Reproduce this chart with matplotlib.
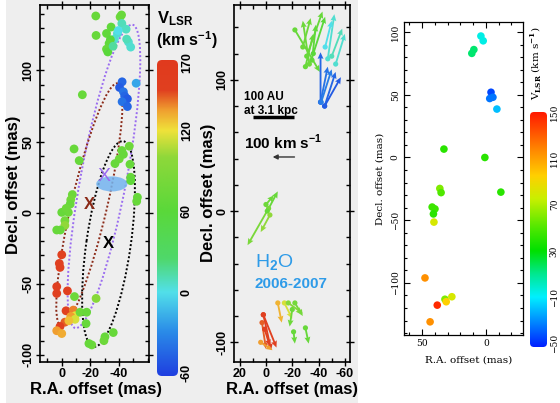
import numpy as np
import matplotlib
matplotlib.use('Agg')
import matplotlib.pyplot as plt
from matplotlib.colors import LinearSegmentedColormap, Normalize
from matplotlib.patches import Ellipse, Rectangle, FancyBboxPatch
from matplotlib.ticker import MultipleLocator

plt.rcParams['font.family'] = ['Liberation Sans', 'DejaVu Sans']
plt.rcParams['font.weight'] = 'bold'
plt.rcParams['mathtext.fontset'] = 'custom'
plt.rcParams['mathtext.rm'] = 'DejaVu Serif'
plt.rcParams['mathtext.bf'] = 'Liberation Sans:bold'
plt.rcParams['mathtext.sf'] = 'Liberation Sans'

# ---- left panel: maser spots (R.A. / Decl. offsets in mas, V_LSR in km/s)
spot_ra = [-23.8, -40.8, -41.8, -42.0, -34.5, -24.0, -31.3, -38.9, -36.8, -34.0,
           -33.1, -31.3, -32.2, -46.6, -48.2, -45.4, -45.0, -39.5, -35.9,
           -42.2, -40.4, -43.1, -44.0, -45.9, -42.2, -45.9, -52.0,
           -14.4,
           -8.6, -12.2, -47.2, -42.0, -40.2, -43.1, -47.7, -48.2, -48.2, -52.9,
           -52.4, -7.4, -6.3, -5.9, -4.6, 0.0, -2.2, -2.2, 3.5, 1.0, -3.1, -37.2,
           0.0, 1.7, 1.2, 3.5, 3.5, -4.0, -3.0, -8.1, -2.2, 1.2, 3.5, 0.0,
           -9.3, -6.3, -9.3, -5.0,
           -8.9, -24.0, -12.8, -17.4, -17.0, -21.0, -19.0, -30.2, -29.5, -36.0]
spot_dec = [138.3, 137.6, 139.0, 133.0, 130.5, 124.6, 126.0, 126.0, 122.0, 121.6,
            119.0, 115.0, 113.0, 120.0, 116.4, 122.0, 129.0, 128.0, 117.0,
            92.0, 88.0, 85.0, 82.0, 80.0, 78.0, 74.6, 91.0,
            82.9,
            44.8, 36.6, 46.7, 43.7, 37.8, 41.0, 34.0, 24.9, 22.5, 10.8,
            8.0, 12.7, 9.0, 6.0, 0.2, 0.2, -5.6, -9.0, -12.2, -12.2, 3.0, 34.5,
            -29.6, -35.7, -38.5, -52.0, -56.8, -55.0, -69.0, -68.5, -77.0, -80.0, -83.0, -85.0,
            -72.5, -73.0, -75.0, -76.0,
            -59.0, -60.3, -70.0, -70.0, -78.0, -93.0, -92.0, -87.3, -90.0, -84.3]
spot_v = [70, 75, 70, 10, 65, 70, 65, 5, 5, 60,
          65, 70, 60, 5, 5, 10, 8, 0, 15,
          -45, -50, -40, -45, -50, -40, -45, -20,
          70,
          70, 70, 75, 70, 75, 70, 70, 70, 65, 70,
          70, 75, 80, 70, 75, 70, 80, 100, 70, 70, 75, 70,
          150, 150, 150, 155, 150, 155, 150, 140, 145, 150, 135, 132,
          118, 135, 115, 128,
          75, 95, 75, 70, 70, 75, 70, 70, 75, 70]

# fitted rings: centre, full axes (mas), position angle (deg from +x)
ell_ra = [-29.5, -19.3, -32.7]
ell_dec = [25.5, 5.6, -22.0]
ell_major = [217, 175, 146]
ell_minor = [32, 25, 31]
ell_pa = [100.6, 103.0, 98.1]

# ---- middle panel: proper motions (start, displacement in mas, V_LSR)
pm_ra = [-22, -31, -33, -35, -30, -36, -28, -47, -50, -45, -53,
         -41.5, -41.5, -44.6, -44.6, -42,
         -2, -1, -3, 0,
         2, 2, 3, 4, 1, -9, -14, -17, -22, -20, -21, -30]
pm_dec = [138, 118, 112, 115, 110, 120, 125, 116, 118, 125, 112,
          83, 83, 80, 80, 83,
          2, 0, -3, 5,
          -79, -79, -85, -100, -90, -70, -70, -70, -70, -75, -92, -89]
pm_dra = [-19, -12, 5, -3, -6, -9, -6, -5, -8, -5, -7,
          0, -5.5, -8.4, -12.4, -8,
          16, -8, 7, -6,
          -6, -10, -3, -9, -4, -3, -6, -11, -6, 2, -1, -2.5]
pm_ddec = [-32, 34, 33, 27, 25, 28, 22, 34, 21, 20, 23,
           38, 27, 26, 22, 25,
           -28, 15, -13, 7,
           -27, -25, -20, -6, -13, -15, -12, -8, -10, -13, -9, -12]
pm_v = [70, 70, 75, 65, 70, 60, 75, 5, 10, 0, 5,
        -45, -40, -45, -50, -35,
        85, 70, 100, 75,
        155, 150, 145, 135, 150, 130, 115, 95, 80, 75, 70, 70]

# ---- right panel: spots
r_ra = [3.9, 2.1, 9.4, 11.0, -4.0, -3.0, -5.5, -8.6, 32.8, 0.8, -11.7, 36.0, 35.0,
        42.0, 39.8, 41.0, 40.6, 47.6, 32.0, 26.6, 31.0, 38.0, 43.6]
r_dec = [96.8, 93.0, 86.0, 83.0, 52.0, 47.0, 48.0, 38.6, 6.7, 0.0, -27.6, -24.7, -28.0,
         -39.5, -41.0, -45.0, -51.5, -96.0, -113.0, -111.0, -115.0, -117.7, -131.0]
r_v = [-5, -5, 15, 15, -45, -35, -35, -20, 40, 40, 40, 60, 50,
       45, 45, 40, 80, 115, 60, 80, 95, 145, 115]

W, H = 560, 403


def frac(x0, y0, x1, y1):
    return [x0 / W, 1 - y1 / H, (x1 - x0) / W, (y1 - y0) / H]


def grad_bar(rect, cmap, vmin, vmax, rad):
    cax = fig.add_axes(rect)
    g = np.linspace(vmin, vmax, 256).reshape(-1, 1)
    im = cax.imshow(g, aspect='auto', cmap=cmap, origin='lower',
                    extent=[0, 1, vmin, vmax], vmin=vmin, vmax=vmax)
    wpx, hpx = rect[2] * W, rect[3] * H
    box = FancyBboxPatch((0, 0), 1, 1, boxstyle=f'round,pad=0,rounding_size={rad / wpx}',
                         mutation_aspect=wpx / hpx, transform=cax.transAxes)
    im.set_clip_path(box)
    for s in cax.spines.values():
        s.set_visible(False)
    cax.set_xticks([])
    cax.yaxis.tick_right()
    cax.tick_params(axis='y', length=0, pad=2)
    cax.set_facecolor('none')
    return cax


def style_box(ax):
    for s in ax.spines.values():
        s.set_linewidth(1.2)
    ax.tick_params(which='major', direction='inout', length=6, width=1,
                   top=True, right=True, labelsize=9, pad=1)
    ax.tick_params(which='minor', direction='in', length=3, width=1, top=True, right=True)
    ax.set_facecolor('none')


lstops = [(-62, '#1f3fe0'), (-30, '#2a8ae8'), (0, '#52e0ea'), (25, '#4fd86a'),
          (60, '#5ad83a'), (100, '#8ed83a'), (120, '#efe23a'), (135, '#f0a030'),
          (150, '#e04020'), (172, '#e03a1e')]
cmap_l = LinearSegmentedColormap.from_list(
    'vl', [((v + 62) / 234, c) for v, c in lstops])
norm_l = Normalize(-62, 172)

rstops = [(-53, '#0020ff'), (-30, '#0090ff'), (-10, '#00f0ff'), (10, '#00e890'),
          (30, '#00e000'), (50, '#50e800'), (75, '#c8f000'), (95, '#ffd000'),
          (115, '#ff9000'), (150, '#ff1a00')]
cmap_r = LinearSegmentedColormap.from_list(
    'vr', [((v + 53) / 203, c) for v, c in rstops])
norm_r = Normalize(-53, 150)

fig = plt.figure(figsize=(5.6, 4.03), dpi=100)
fig.add_artist(Rectangle((6 / W, 0), 352 / W, 1, transform=fig.transFigure,
                         facecolor='#eeeeee', edgecolor='none', zorder=-5))

# ---------------- left panel
ax1 = fig.add_axes(frac(40, 5, 149, 362))
style_box(ax1)
ax1.set_xlim(15.2, -61)
ax1.set_ylim(-105, 146)
for cx, cy, a, b, pa, col in zip(ell_ra, ell_dec, ell_major, ell_minor, ell_pa,
                                 ['#9a6cf0', '#8b2a18', 'black']):
    ax1.add_patch(Ellipse((cx, cy), a, b, angle=pa, fill=False, edgecolor=col,
                          lw=1.4, linestyle=(0, (1, 1.1)), zorder=2))
ax1.add_patch(Ellipse((-35, 20.2), 21.8, 10.6, facecolor='#74b4f0',
                      edgecolor='none', alpha=0.85, zorder=2.5))
ax1.scatter(spot_ra, spot_dec, c=spot_v, cmap=cmap_l, norm=norm_l, s=40,
            edgecolors='none', zorder=3)
for cx, cy, col, w, fs in zip(ell_ra, ell_dec, ['#9a6cf0', '#8b2a18', 'black'],
                              ['normal', 'bold', 'bold'], [14, 12, 12]):
    ax1.text(cx, cy, 'X', color=col, fontsize=fs, fontweight=w,
             ha='center', va='center', zorder=4)
ax1.set_xticks([0, -20, -40])
ax1.set_xticklabels(['0', '-20', '-40'])
ax1.set_yticks([100, 50, 0, -50, -100])
ax1.set_yticklabels(['100', '50', '0', '-50', '-100'], rotation=90, va='center')
ax1.xaxis.set_minor_locator(MultipleLocator(10))
ax1.yaxis.set_minor_locator(MultipleLocator(10))
ax1.set_xlabel('R.A. offset (mas)', fontsize=12, fontweight='bold', va='center')
ax1.set_ylabel('Decl. offset (mas)', fontsize=12, fontweight='bold', va='center')
ax1.xaxis.set_label_coords(0.51, -0.078)
ax1.yaxis.set_label_coords(-0.24, 0.496)

cax1 = grad_bar(frac(157, 60, 178, 376), cmap_l, -62, 172, 5)
cax1.set_yticks([170, 120, 60, 0, -60])
cax1.set_yticklabels(['170', '120', '60', '0', '-60'], rotation=90, va='center',
                     fontsize=9, fontweight='bold')
fig.text(157 / W, 1 - 19 / H, r'$\mathbf{V_{LSR}}$', fontsize=12, va='center')
fig.text(156 / W, 1 - 40 / H, r'(km s$^{\mathbf{-1}}$)', fontsize=11.5,
         fontweight='bold', va='center')

# ---------------- middle panel
ax2 = fig.add_axes(frac(234, 5, 350, 362))
style_box(ax2)
ax2.set_xlim(24.3, -63.9)
ax2.set_ylim(-115, 157)
ax2.quiver(pm_ra, pm_dec, pm_dra, pm_ddec, pm_v, cmap=cmap_l, norm=norm_l,
           angles='xy', scale_units='xy', scale=1, width=0.016,
           headwidth=3.2, headlength=3.6, headaxislength=3.2, zorder=3)
ax2.scatter(pm_ra, pm_dec, c=pm_v, cmap=cmap_l, norm=norm_l, s=14,
            edgecolors='none', zorder=3)
ax2.text(16.5, 87, '100 AU', fontsize=8.5, fontweight='bold', va='center')
ax2.text(16.5, 76, 'at 3.1 kpc', fontsize=8.5, fontweight='bold', va='center')
ax2.plot([10, -21.5], [71.5, 71.5], color='black', lw=2.5, solid_capstyle='butt')
ax2.text(17, 52, r'100 km s$^{\mathbf{-1}}$', fontsize=11, fontweight='bold', va='center')
ax2.annotate('', xy=(-3, 41.2), xytext=(-23.8, 41.2),
             arrowprops=dict(arrowstyle='-|>', color='#333333', lw=1,
                             mutation_scale=7))
ax2.text(8.5, -39.7, r'H$_\mathsf{2}$O', fontsize=14, fontweight='normal',
         color='#2e9be8', va='center')
ax2.text(8.5, -55.7, '2006-2007', fontsize=11, fontweight='bold',
         color='#2e9be8', va='center')
ax2.set_xticks([20, 0, -20, -40, -60])
ax2.set_xticklabels(['20', '0', '-20', '-40', '-60'])
ax2.set_yticks([100, 0, -100])
ax2.set_yticklabels(['100', '0', '-100'], rotation=90, va='center')
ax2.xaxis.set_minor_locator(MultipleLocator(10))
ax2.yaxis.set_minor_locator(MultipleLocator(20))
ax2.set_xlabel('R.A. offset (mas)', fontsize=12, fontweight='bold', va='center')
ax2.set_ylabel('Decl. offset (mas)', fontsize=12, fontweight='bold', va='center')
ax2.xaxis.set_label_coords(0.5, -0.078)
ax2.yaxis.set_label_coords(-0.224, 0.475)

# ---------------- right panel
serif = 'DejaVu Serif'
ax3 = fig.add_axes(frac(404, 22, 523, 335))
ax3.scatter(r_ra, r_dec, c=r_v, cmap=cmap_r, norm=norm_r, s=30,
            edgecolors='none', zorder=3)
ax3.set_xlim(64, -29)
ax3.set_ylim(-141.5, 108)
ax3.set_xticks([50, 0])
ax3.set_xticklabels(['50', '0'], fontfamily=serif, fontweight='normal', fontsize=6.5)
ax3.set_yticks([100, 50, 0, -50, -100])
ax3.set_yticklabels(['100', '50', '0', '\u221250', '\u2212100'], rotation=90,
                    va='center', fontfamily=serif, fontweight='normal', fontsize=6.5)
ax3.xaxis.set_minor_locator(MultipleLocator(10))
ax3.yaxis.set_minor_locator(MultipleLocator(10))
ax3.tick_params(which='both', direction='in', top=True, right=True, width=0.8, pad=3)
ax3.tick_params(which='major', length=4)
ax3.tick_params(which='minor', length=2)
for s in ax3.spines.values():
    s.set_linewidth(0.9)
ax3.set_xlabel('R.A. offset (mas)', fontfamily=serif, fontweight='normal', fontsize=7.5)
ax3.set_ylabel('Decl. offset (mas)', fontfamily=serif, fontweight='normal', fontsize=7.5,
               va='center')
ax3.xaxis.set_label_coords(0.54, -0.065)
ax3.yaxis.set_label_coords(-0.2, 0.5)

cax3 = grad_bar(frac(530, 112, 547, 347), cmap_r, -53, 150, 4)
cax3.set_yticks([150, 110, 70, 30, -10, -50])
cax3.set_yticklabels(['150', '110', '70', '30', '\u221210', '\u221250'], rotation=90,
                     va='center', fontfamily=serif, fontweight='normal', fontsize=6.5)
fig.text(536 / W, 1 - 63 / H, r'V$_{\rm LSR}$ (km s$^{-1}$)', rotation=90,
         ha='center', va='center', fontfamily=serif, fontweight='normal', fontsize=7.5)

fig.savefig('out.png', dpi=100)
